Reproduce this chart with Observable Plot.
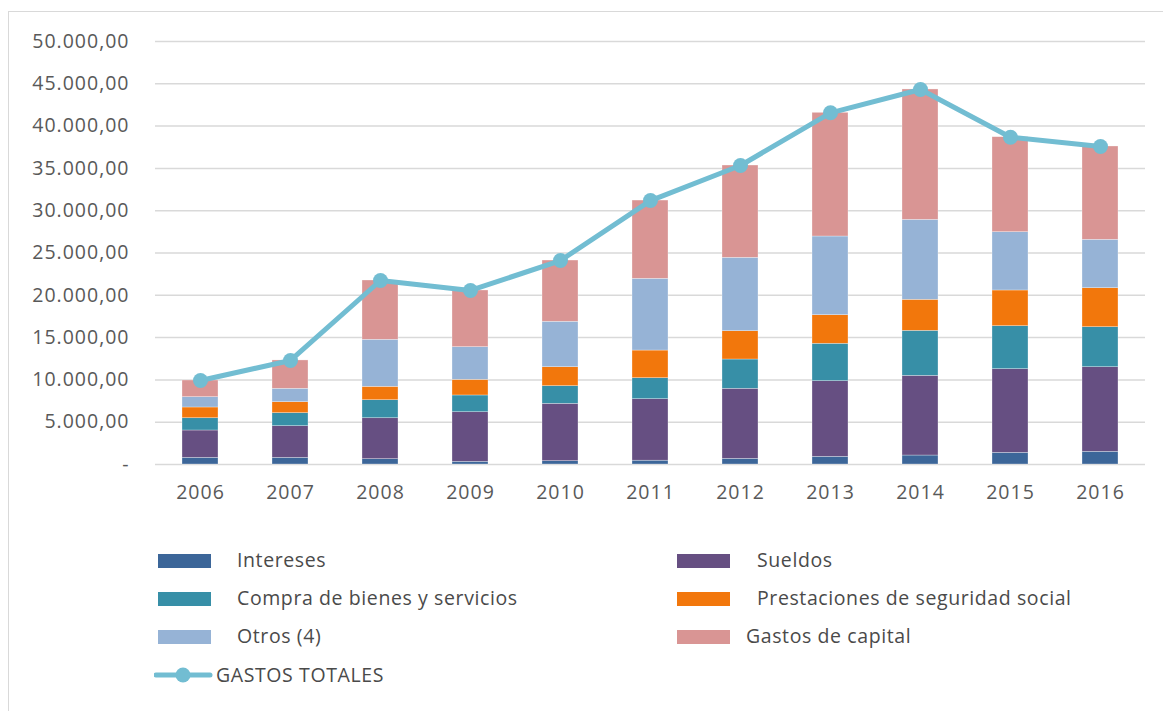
<!DOCTYPE html>
<html>
<head>
<meta charset="utf-8">
<script src="https://cdn.jsdelivr.net/npm/d3@7"></script>
<script src="https://cdn.jsdelivr.net/npm/@observablehq/plot@0.6"></script>
<style>
  html, body { margin: 0; padding: 0; background: #fff; }
  body { width: 1163px; height: 711px; overflow: hidden; font-family: "Open Sans", sans-serif; }
  #wrap { position: relative; width: 1163px; height: 711px; }
  #frame { position: absolute; left: 8px; top: 11px; width: 1200px; height: 800px; border-left: 1.5px solid #d9d9d9; border-top: 1.5px solid #d9d9d9; box-sizing: border-box; }
  #chart { position: absolute; left: 0; top: 0; }
  .leg { position: absolute; font-size: 19.5px; letter-spacing: 0.6px; color: #4a4a4a; white-space: nowrap; line-height: 1; }
  .sw { position: absolute; width: 53px; height: 14px; }
</style>
</head>
<body>
<div id="wrap">
  <div id="frame"></div>
  <div id="chart"></div>
  <div id="legend"></div>
</div>
<script>
const years = ["2006","2007","2008","2009","2010","2011","2012","2013","2014","2015","2016"];
const series = ["Intereses","Sueldos","Compra de bienes y servicios","Prestaciones de seguridad social","Otros (4)","Gastos de capital"];
const colors = ["#3c6699","#664f82","#378fa7","#f2770c","#96b3d6","#d99594"];
const intereses   = [790, 790, 630, 320, 390, 450, 670, 910, 1060, 1380, 1500];
const sueldos     = [3230, 3740, 4840, 5860, 6780, 7270, 8280, 8940, 9420, 9890, 10000];
const compra      = [1450, 1540, 2130, 1980, 2090, 2480, 3460, 4420, 5320, 5080, 4730];
const prestaciones= [1270, 1300, 1580, 1850, 2240, 3270, 3350, 3380, 3670, 4220, 4610];
const otros       = [1220, 1580, 5560, 3860, 5370, 8480, 8670, 9300, 9450, 6890, 5720];
const capital     = [1970, 3350, 7010, 6700, 7240, 9250, 10910, 14620, 15410, 11230, 11030];
const gastosTotales = [9930, 12300, 21750, 20570, 24110, 31200, 35340, 41570, 44330, 38690, 37590];
const yTicks = [0, 5000, 10000, 15000, 20000, 25000, 30000, 35000, 40000, 45000, 50000];
const lineColor = "#72bdd2";

const seriesValues = [intereses, sueldos, compra, prestaciones, otros, capital];
const tidy = [];
series.forEach((s, i) => years.forEach((y, j) => tidy.push({year: y, serie: s, value: seriesValues[i][j]})));
const totals = years.map((y, j) => ({year: y, value: gastosTotales[j]}));

const fmt = v => v === 0 ? "-" : d3.format(",.2f")(v).replace(/,/g, "#").replace(/\./g, ",").replace(/#/g, ".");

const chart = Plot.plot({
  width: 1163,
  height: 530,
  marginLeft: 155,
  marginRight: 18,
  marginTop: 41,
  marginBottom: 66,
  style: {fontFamily: "Open Sans, sans-serif", fontSize: "19.5px", letterSpacing: "1px", color: "#595959", background: "transparent"},
  x: {domain: years, paddingInner: 0.6, paddingOuter: 0.3, label: null, tickSize: 0, tickPadding: 21},
  y: {domain: [0, 50000], ticks: yTicks, tickFormat: fmt, label: null, tickSize: 0, tickPadding: 26},
  color: {domain: series, range: colors},
  marks: [
    Plot.ruleY(yTicks, {stroke: "#d9d9d9", strokeWidth: 1.5}),
    Plot.barY(tidy, {x: "year", y: "value", fill: "serie", order: series, stroke: "#ffffff", strokeOpacity: 0.5, strokeWidth: 0.6}),
    Plot.line(totals, {x: "year", y: "value", stroke: lineColor, strokeWidth: 5, curve: "linear"}),
    Plot.dot(totals, {x: "year", y: "value", fill: lineColor, r: 7.5, stroke: "none"})
  ]
});
document.getElementById("chart").appendChild(chart);

// legend
const leg = document.getElementById("legend");
const items = [
  {i: 0, sx: 158, tx: 237, y: 554},
  {i: 1, sx: 677, tx: 757, y: 554},
  {i: 2, sx: 158, tx: 237, y: 592},
  {i: 3, sx: 677, tx: 757, y: 592},
  {i: 4, sx: 158, tx: 237, y: 630},
  {i: 5, sx: 677, tx: 746, y: 630}
];
items.forEach(it => {
  const sw = document.createElement("div");
  sw.className = "sw";
  sw.style.left = it.sx + "px"; sw.style.top = it.y + "px"; sw.style.background = colors[it.i];
  leg.appendChild(sw);
  const t = document.createElement("div");
  t.className = "leg";
  t.style.left = it.tx + "px"; t.style.top = (it.y - 4) + "px";
  t.textContent = series[it.i];
  leg.appendChild(t);
});
// line legend
const ls = document.createElementNS("http://www.w3.org/2000/svg", "svg");
ls.setAttribute("width", 60); ls.setAttribute("height", 20);
ls.style.position = "absolute"; ls.style.left = "154px"; ls.style.top = "665px";
ls.innerHTML = `<line x1="2" y1="10" x2="56" y2="10" stroke="${lineColor}" stroke-width="5" stroke-linecap="round"/><circle cx="29" cy="10" r="7.5" fill="${lineColor}"/>`;
leg.appendChild(ls);
const lt = document.createElement("div");
lt.className = "leg";
lt.style.left = "216px"; lt.style.top = "665px";
lt.textContent = "GASTOS TOTALES";
leg.appendChild(lt);
</script>
</body>
</html>
